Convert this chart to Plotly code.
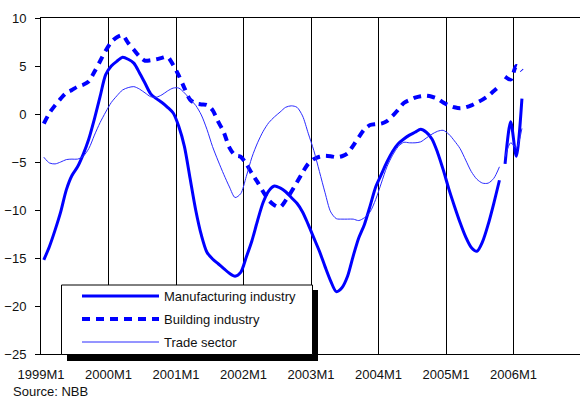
import plotly.graph_objects as go

# Monthly confidence indicators, 1999M1 .. 2006M2 (seasonally adjusted, smoothed)
year_ticks = ["1999M1", "2000M1", "2001M1", "2002M1", "2003M1",
              "2004M1", "2005M1", "2006M1"]

manufacturing = [
    -15.2, -13.8, -12.1, -10.2, -7.9, -6.4, -5.5, -4.2, -2.6, -0.5, 1.8, 4.1,
    5.0, 5.5, 5.9, 5.7, 5.3, 4.3, 3.2, 2.1, 1.6, 1.2, 0.7, 0.1,
    -1.3, -3.4, -6.7, -10.0, -12.6, -14.4, -15.1, -15.6, -16.1, -16.6, -16.9, -16.5,
    -14.9, -13.2, -11.1, -9.2, -8.0, -7.5, -7.7, -8.1, -8.7, -9.3, -10.2, -11.5,
    -12.9, -14.3, -15.9, -17.4, -18.5, -18.1, -16.9, -14.8, -12.9, -11.5, -9.6, -7.6,
    -6.3, -5.0, -3.9, -3.1, -2.6, -2.2, -1.9, -1.6, -1.9, -2.6, -4.0, -5.8,
    -7.8, -9.6, -11.3, -12.8, -13.9, -14.3, -13.3, -11.5, -9.3, -6.9, -5.2, -0.8,
    -4.4, 1.6,
]

building = [
    -1.0, 0.1, 0.9, 1.6, 2.2, 2.5, 2.85, 3.05, 3.4, 4.4, 5.5, 6.6,
    7.5, 8.0, 8.2, 7.4, 6.7, 6.0, 5.55, 5.6, 5.7, 5.85, 5.95, 5.1,
    4.0, 2.7, 1.5, 1.1, 1.0, 0.95, 0.4, -0.8, -1.9, -3.5, -4.3, -4.45,
    -5.2, -6.2, -7.1, -8.1, -9.0, -9.5, -9.7, -9.0, -8.1, -7.1, -6.1, -5.2,
    -4.7, -4.45, -4.35, -4.4, -4.5, -4.4, -4.1, -3.3, -2.4, -1.6, -1.15, -1.05,
    -1.0, -0.75, -0.2, 0.45, 1.15, 1.45, 1.7, 1.85, 1.9, 1.8, 1.6, 1.2,
    0.9, 0.7, 0.6, 0.7, 0.9, 1.2, 1.5, 1.9, 2.4, 2.9, 3.9, 3.6,
    5.0, 4.5,
]

trade = [
    -4.5, -5.1, -5.2, -5.0, -4.75, -4.7, -4.7, -4.4, -3.6, -2.2, -0.9, 0.2,
    1.2, 1.9, 2.5, 2.75, 2.85, 2.6, 2.2, 1.8, 1.75, 2.0, 2.4, 2.7,
    2.7, 2.2, 1.55, 0.9, -0.1, -1.6, -3.4, -4.9, -6.3, -7.6, -8.7, -8.3,
    -6.5, -4.5, -3.0, -1.8, -0.9, -0.3, 0.2, 0.7, 0.85, 0.7, -0.2, -2.0,
    -3.8, -6.0, -8.2, -10.2, -10.9, -10.95, -10.95, -10.95, -11.1, -10.8, -10.2, -8.9,
    -7.2, -5.5, -4.3, -3.4, -2.95, -3.0, -3.0, -2.9, -2.5, -2.1, -1.8, -1.7,
    -2.1, -2.8, -3.6, -4.8, -6.0, -6.8, -7.2, -7.2, -6.7, -5.5, -4.5, -3.0,
    -3.5, -1.5,
]

series_names = ["Manufacturing industry", "Building industry", "Trade sector"]

# first month of the latest data vintage (the lines break there)
BREAK = 82

W, H = 580, 398
L, R, T, B = 41, 0, 18, 44
PW, PH = W - L - R, H - T - B
PX_PER_MONTH = 67.5 / 12

BLUE = "#0000ff"
styles = [
    dict(color=BLUE, width=3),
    dict(color=BLUE, width=4, dash="8px,6px"),
    dict(color="#2a2aff", width=1),
]


def px(x):
    return (x - L) / PW


def py(y):
    return (H - B - y) / PH


fig = go.Figure()
months = [i + 0.5 for i in range(len(manufacturing))]
for name, values, style in zip(series_names, [manufacturing, building, trade], styles):
    for lo, hi in [(0, BREAK), (BREAK, len(values))]:
        fig.add_trace(go.Scatter(
            x=months[lo:hi], y=values[lo:hi], mode="lines", name=name,
            line=dict(shape="spline", smoothing=0.8, **style),
            showlegend=False, hoverinfo="skip",
        ))

font = dict(family="Liberation Sans, Arial, sans-serif", size=13, color="#111111")

fig.update_layout(
    width=W, height=H,
    margin=dict(l=L, r=R, t=T, b=B, pad=0),
    paper_bgcolor="white", plot_bgcolor="white",
    font=font,
    showlegend=False,
    xaxis=dict(
        range=[0, PW / PX_PER_MONTH],
        tickvals=[12 * k for k in range(len(year_ticks))],
        ticktext=year_ticks,
        showgrid=True, gridcolor="black", gridwidth=1,
        showline=True, linecolor="black", linewidth=1, mirror=True,
        ticks="", zeroline=False, tickfont=font,
        ticklabelstandoff=8,
    ),
    yaxis=dict(
        range=[-25, 10], dtick=5, tick0=0,
        showgrid=False, zeroline=False,
        showline=True, linecolor="black", linewidth=1,
        ticks="outside", ticklen=5, tickcolor="black", tickwidth=1,
        tickfont=font, ticklabelstandoff=6,
    ),
)

# legend panel with drop shadow
shapes = [
    dict(type="rect", xref="paper", yref="paper",
         x0=px(67), x1=px(318), y0=py(361), y1=py(290),
         fillcolor="black", line=dict(width=0), layer="above"),
    dict(type="rect", xref="paper", yref="paper",
         x0=px(61.5), x1=px(312.5), y0=py(354.5), y1=py(285),
         fillcolor="white", line=dict(color="black", width=1), layer="above"),
]
annotations = []
for k, (name, style) in enumerate(zip(series_names, styles)):
    yy = 296 + 23 * k
    shapes.append(dict(type="line", xref="paper", yref="paper",
                       x0=px(82), x1=px(159), y0=py(yy), y1=py(yy),
                       line=style, layer="above"))
    annotations.append(dict(xref="paper", yref="paper", x=px(162), y=py(yy),
                            text=name, showarrow=False, xanchor="left",
                            yanchor="middle", font=font))

annotations.append(dict(xref="paper", yref="paper", x=px(11), y=py(382),
                        text="Source: NBB", showarrow=False, xanchor="left",
                        yanchor="top", font=font))

fig.update_layout(shapes=shapes, annotations=annotations)
fig.write_html("out.html")
